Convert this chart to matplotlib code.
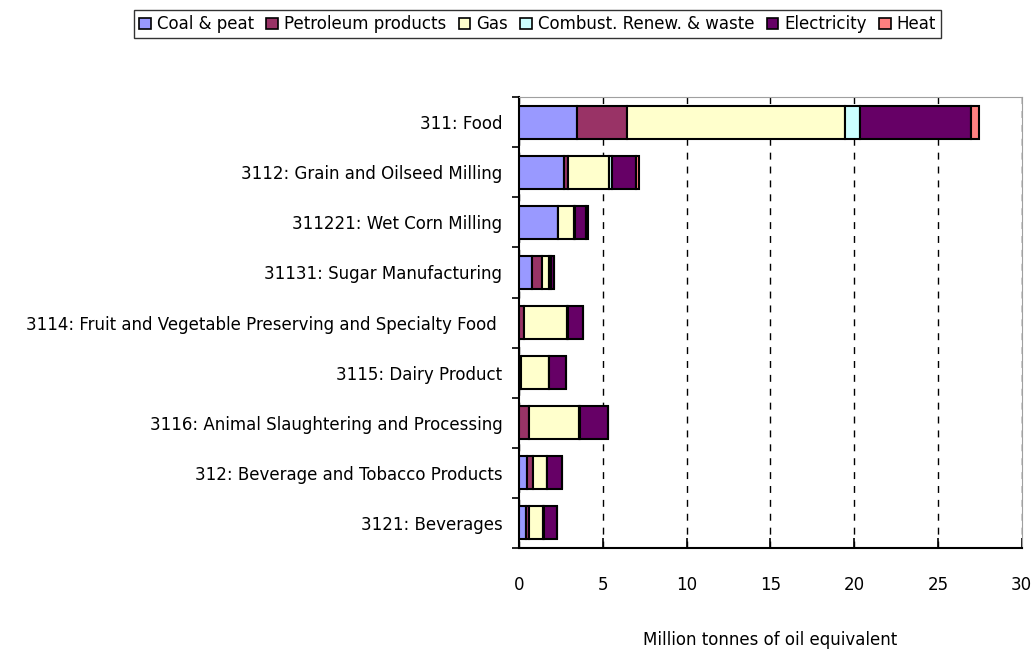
import numpy as np
import matplotlib.pyplot as plt
from matplotlib.patches import Patch

plt.rcParams['font.family'] = ['DejaVu Sans']

categories = ['311: Food', '3112: Grain and Oilseed Milling', '311221: Wet Corn Milling',
              '31131: Sugar Manufacturing',
              '3114: Fruit and Vegetable Preserving and Specialty Food ',
              '3115: Dairy Product', '3116: Animal Slaughtering and Processing',
              '312: Beverage and Tobacco Products', '3121: Beverages']
series = ['Coal & peat', 'Petroleum products', 'Gas', 'Combust. Renew. & waste',
          'Electricity', 'Heat']

coal = [3.48, 2.68, 2.30, 0.77, 0.00, 0.05, 0.00, 0.46, 0.40]
petroleum = [2.98, 0.22, 0.03, 0.62, 0.30, 0.08, 0.60, 0.36, 0.20]
gas = [13.02, 2.49, 0.93, 0.40, 2.58, 1.66, 3.00, 0.85, 0.83]
combust = [0.89, 0.14, 0.10, 0.14, 0.02, 0.02, 0.02, 0.02, 0.04]
electricity = [6.58, 1.43, 0.64, 0.18, 0.90, 0.97, 1.67, 0.89, 0.80]
heat = [0.50, 0.21, 0.11, 0.00, 0.00, 0.00, 0.00, 0.00, 0.00]

colors = ['#9999FF', '#993366', '#FFFFCC', '#CCFFFF', '#660066', '#FF8080']

fig = plt.figure(figsize=(10.34, 6.52), dpi=100)
ax = fig.add_axes([0.502, 0.1595, 0.486, 0.6915])

y = np.arange(len(categories))
left = np.zeros(len(categories))
for vals, col in zip([coal, petroleum, gas, combust, electricity, heat], colors):
    ax.barh(y, vals, left=left, height=0.66, color=col, edgecolor='black',
            linewidth=1.5, zorder=3)
    left += np.array(vals)

ax.set_ylim(len(categories) - 0.5, -0.5)
ax.set_xlim(0, 30)
ax.set_yticks(y)
ax.set_yticklabels(categories, fontsize=12)
ax.set_yticks(np.arange(-0.5, len(categories)), minor=True)
ax.tick_params(axis='y', which='major', length=0, pad=12)
ax.tick_params(axis='y', which='minor', length=5, width=1.2, direction='out')
ax.set_xticks(np.arange(0, 31, 5))
ax.tick_params(axis='x', direction='in', length=7, width=1.2, pad=20, labelsize=12)
ax.xaxis.grid(True, color='black', linestyle=(0, (5, 5)), linewidth=1)
ax.set_xlabel('Million tonnes of oil equivalent', fontsize=12)
ax.xaxis.set_label_coords(0.5, -0.183)

for s in ['left', 'bottom']:
    ax.spines[s].set_linewidth(1.5)
for s in ['top', 'right']:
    ax.spines[s].set_color('#A0A0A0')

handles = [Patch(facecolor=c, edgecolor='black', linewidth=1.2) for c in colors]
leg = fig.legend(handles, series, loc='upper center', bbox_to_anchor=(0.52, 0.997),
                 ncol=6, fontsize=12, frameon=True, fancybox=False, edgecolor='black',
                 handlelength=0.7, handleheight=0.7, handletextpad=0.35, columnspacing=0.75,
                 borderpad=0.3)
leg.get_frame().set_linewidth(1)

fig.savefig('out.png', dpi=100)
